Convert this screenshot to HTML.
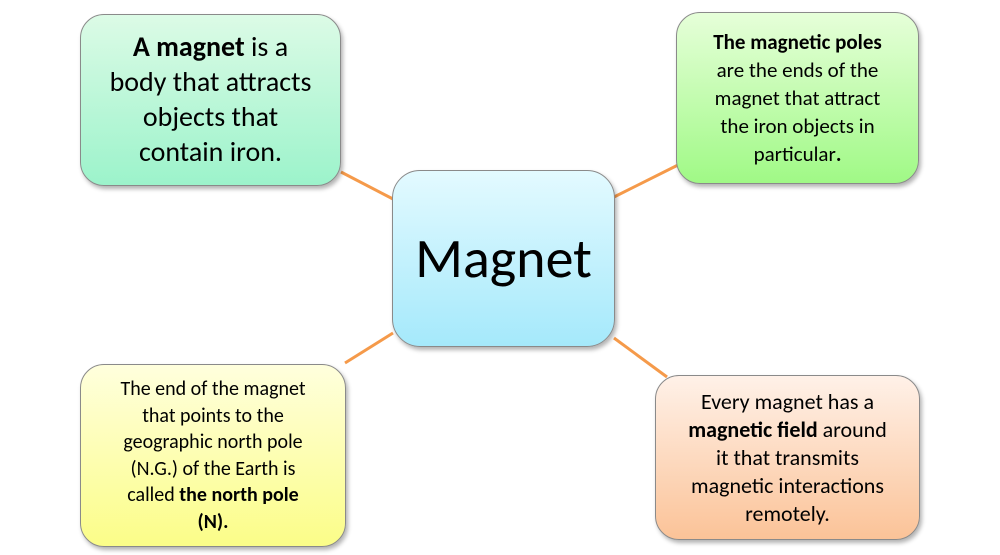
<!DOCTYPE html>
<html><head><style>
body{margin:0;width:1000px;height:555px;background:#fff;position:relative;overflow:hidden;font-family:"Carlito","Liberation Sans",sans-serif;color:#000}
.b{position:absolute;border:1px solid #8a8a8a;border-radius:24px;box-shadow:2px 3px 4px rgba(0,0,0,0.3);display:flex;align-items:center;justify-content:center;text-align:center;box-sizing:border-box;white-space:nowrap}
svg{position:absolute;left:0;top:0}
</style></head><body>
<svg width="1000" height="555"><g stroke="#f59a4a" stroke-width="3">
<line x1="341" y1="172" x2="393" y2="199"/>
<line x1="614" y1="197" x2="678" y2="165"/>
<line x1="345" y1="363" x2="393" y2="333"/>
<line x1="614" y1="338" x2="667" y2="377"/>
</g></svg>
<div class="b" style="left:80px;top:14px;width:261px;height:172px;background:linear-gradient(#dcfbe6,#9cf3cb);font-size:28px;line-height:35px;padding-top:14px;align-items:flex-start">
<div><b>A magnet</b> is a<br>body that attracts<br>objects that<br>contain iron.</div></div>
<div class="b" style="left:676px;top:12px;width:243px;height:172px;background:linear-gradient(#e6ffd9,#a0f986);font-size:21px;line-height:28px">
<div><b>The magnetic poles</b><br>are the ends of the<br>magnet that attract<br>the iron objects in<br>particular<b>.</b></div></div>
<div class="b" style="left:392px;top:170px;width:223px;height:177px;border-radius:28px;background:linear-gradient(#e3faff,#a5e9fb);font-size:56px">Magnet</div>
<div class="b" style="left:80px;top:364px;width:266px;height:183px;background:linear-gradient(#ffffdd,#fbfd88);font-size:20px;line-height:26.5px">
<div>The end of the magnet<br>that points to the<br>geographic north pole<br>(N.G.) of the Earth is<br>called <b>the north pole<br>(N).</b></div></div>
<div class="b" style="left:655px;top:375px;width:265px;height:165px;background:linear-gradient(#fff1e8,#fbc398);font-size:22px;line-height:28px">
<div>Every magnet has a<br><b>magnetic field</b> around<br>it that transmits<br>magnetic interactions<br>remotely.</div></div>
</body></html>
